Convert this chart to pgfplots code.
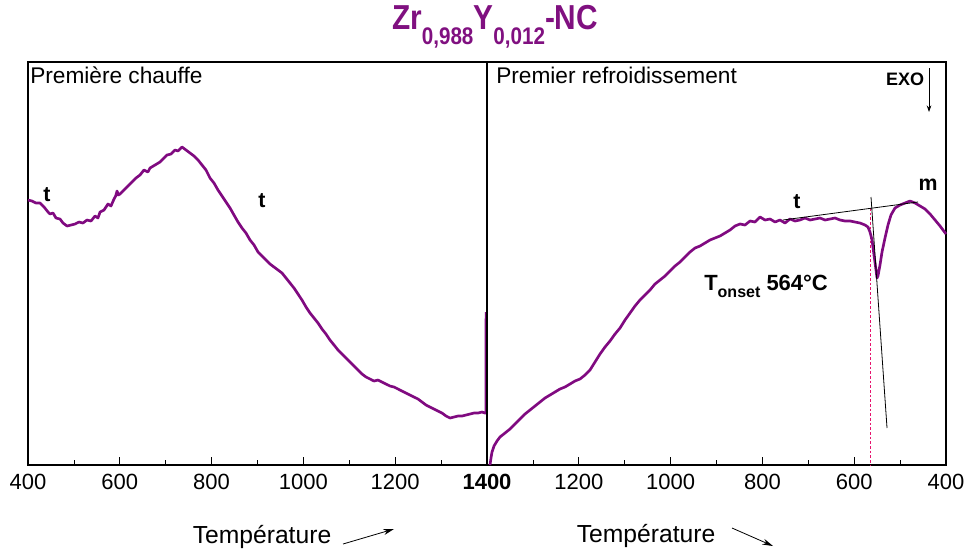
\documentclass[border=0pt]{standalone}
\usepackage{pgfplots}
\pgfplotsset{compat=1.18}
\usepackage{fontspec}
\setmainfont{Liberation Sans}
\usetikzlibrary{arrows.meta}
\definecolor{curve}{RGB}{128,10,128}
\definecolor{ttl}{RGB}{128,16,128}
\definecolor{onset}{RGB}{230,20,110}

\pgfplotstableread{
T y
400 -200
408.7 -201
417.4 -203
426.1 -203
434.9 -207
443.6 -212
447.9 -214
454.5 -213
461.0 -218
469.7 -219
476.3 -223
485.0 -226
493.7 -225
502.4 -224
511.1 -222
519.8 -223
528.5 -220
537.3 -221
546.0 -216
552.5 -218
556.9 -212
565.6 -210
574.3 -204
580.8 -206
587.4 -199
591.0 -196
594.0 -191
597.0 -195
600.4 -194
609.1 -190
617.9 -186
626.6 -182
635.3 -178
644.0 -175
652.7 -170
661.4 -172
665.8 -168
676.7 -165
687.6 -162
696.3 -158
702.8 -155
711.5 -154
720.3 -150
726.8 -151
735.5 -147
744.2 -150
752.9 -153
761.7 -156
770.4 -160
779.1 -165
787.8 -170
796.5 -178
805.2 -183
813.9 -190
822.7 -196
831.4 -202
840.1 -208
848.8 -215
857.5 -222
866.2 -228
874.9 -233
883.7 -240
892.4 -245
901.1 -252
909.8 -256
918.5 -260
927.2 -264
935.9 -267
944.7 -270
953.4 -273
962.1 -278
970.8 -283
979.5 -288
988.2 -294
996.9 -300
1005.7 -307
1014.4 -313
1023.1 -318
1031.8 -323
1040.5 -329
1049.2 -334
1057.9 -340
1066.7 -345
1075.4 -350
1084.1 -354
1092.8 -358
1101.5 -362
1110.2 -366
1118.9 -370
1127.7 -374
1136.4 -377
1145.1 -379
1153.8 -381
1162.5 -380
1171.2 -382
1179.9 -384
1188.7 -386
1197.4 -387
1206.1 -389
1214.8 -391
1223.5 -393
1232.2 -395
1240.9 -397
1249.7 -399
1258.4 -402
1267.1 -405
1275.8 -407
1284.5 -409
1293.2 -411
1301.9 -413
1310.7 -416
1319.4 -418
1328.1 -417
1336.8 -416
1345.5 -416
1354.2 -415
1362.9 -414
1371.7 -413
1380.4 -413
1389.1 -412
1395.6 -413
1397.8 -413
1398.0 -312
}\heating

\pgfplotstableread{
T y
1393.5 -465
1391.3 -458
1389.1 -452
1384.7 -446
1378.2 -441
1371.7 -437
1360.8 -433
1349.9 -429
1339.0 -424
1328.1 -419
1317.2 -414
1306.3 -410
1295.4 -406
1284.5 -402
1273.6 -398
1262.7 -395
1251.9 -392
1241.0 -389
1230.1 -387
1219.2 -384
1208.3 -381
1197.4 -379
1186.5 -375
1175.6 -370
1164.7 -362
1153.8 -354
1142.9 -347
1132.0 -341
1121.1 -334
1110.2 -328
1099.3 -320
1088.4 -313
1077.6 -306
1066.7 -300
1055.8 -295
1044.9 -290
1034.0 -284
1023.1 -280
1012.2 -276
1001.3 -271
990.4 -266
979.5 -262
968.6 -257
957.7 -252
946.8 -248
935.9 -246
925.0 -243
914.2 -240
903.3 -238
892.4 -236
881.5 -233
870.6 -230
859.7 -226
848.8 -224
837.9 -225
827.0 -221
816.1 -222
805.2 -217
794.3 -220
783.4 -219
772.5 -222
761.7 -220
750.8 -223
739.9 -219
729.0 -221
718.1 -220
707.2 -218
696.3 -220
685.4 -219
674.5 -218
663.6 -220
652.7 -219
641.8 -218
630.9 -220
620.0 -221
609.1 -221
598.3 -222
587.4 -223
576.5 -225
570.0 -227
565.6 -232
561.2 -240
556.9 -255
552.5 -270
550.3 -278
548.2 -276
543.8 -265
539.4 -252
532.9 -238
526.4 -225
519.9 -215
511.1 -208
500.2 -205
489.3 -203
478.4 -201
467.5 -203
456.6 -206
445.7 -209
434.8 -214
423.9 -220
413.0 -226
400.0 -234
}\cooling

\pgfplotsset{
  panel/.style={
    scale only axis, width=344.25pt, height=302.25pt,
    xmin=400, xmax=1400, ymin=-465, ymax=-62,
    axis line style={black, line width=0.9pt},
    ytick=\empty, xtick pos=bottom,
    minor xtick={500,700,...,1300},
    major tick length=6pt, minor tick length=4pt,
    tick style={black, line width=0.6pt},
    tick align=inside,
    /pgf/number format/assume math mode=true,
    ticklabel style={font=\fontsize{16.5}{16.5}\selectfont},
    xticklabel style={yshift=-3pt},
    clip=false,
  }
}

\begin{document}
\begin{tikzpicture}
\path[use as bounding box] (0,0) rectangle (724.5pt,-413.25pt);

\begin{axis}[panel, at={(21pt,-348.75pt)}, anchor=south west,
  xtick={400,600,800,1000,1200,1400},
  xticklabels={400,600,800,1000,1200,\textbf{1400}}]
\addplot[curve, line width=2pt, line join=round] table[x=T,y=y] {\heating};
\end{axis}

\begin{axis}[panel, at={(365.25pt,-348.75pt)}, anchor=south west,
  x dir=reverse,
  xtick={400,600,800,1000,1200},
  xticklabels={400,600,800,1000,1200}]
\addplot[onset, line width=1.1pt, dash pattern=on 2pt off 1.5pt] coordinates {(564,-208) (564,-465)};
\addplot[curve, line width=2pt, line join=round] table[x=T,y=y] {\cooling};
\addplot[black, line width=0.6pt] coordinates {(755.1,-220) (461.0,-202)};
\addplot[black, line width=0.6pt] coordinates {(563.4,-197) (528.5,-428)};
\end{axis}

\begin{scope}[x=0.75pt, y=-0.75pt]
\node[ttl, inner sep=0pt] at (495,27) {\scalebox{0.86}[1]{\bfseries\fontsize{26}{26}\selectfont
  Zr\raisebox{-0.42em}{\fontsize{18}{18}\selectfont 0,988}Y\raisebox{-0.42em}{\fontsize{18}{18}\selectfont 0,012}-NC}};
\node[anchor=west, font=\fontsize{17}{17}\selectfont, inner sep=0pt] at (30,75) {Première chauffe};
\node[anchor=west, font=\fontsize{17}{17}\selectfont, inner sep=0pt] at (496,75) {Premier refroidissement};
\node[font=\bfseries\fontsize{13.5}{13.5}\selectfont, inner sep=0pt] at (905,79) {EXO};
\draw[black, line width=0.6pt, -{Stealth[length=5pt,width=3.5pt]}] (929,68) -- (929,112);
\node[font=\bfseries\fontsize{16}{16}\selectfont, inner sep=0pt] at (47,195) {t};
\node[font=\bfseries\fontsize{16}{16}\selectfont, inner sep=0pt] at (262,201) {t};
\node[font=\bfseries\fontsize{16}{16}\selectfont, inner sep=0pt] at (797,202) {t};
\node[font=\bfseries\fontsize{16}{16}\selectfont, inner sep=0pt] at (928,185) {m};
\node[anchor=base west, font=\bfseries\fontsize{16.5}{16.5}\selectfont, inner sep=0pt] at (704,290)
  {T\raisebox{-0.35em}{\fontsize{12}{12}\selectfont onset} 564°C};
\node[font=\fontsize{18.5}{18.5}\selectfont, inner sep=0pt] at (262,537) {Température};
\draw[black, line width=0.6pt, -{Stealth[length=8pt,width=4.5pt]}] (343,544) -- (394,529);
\node[font=\fontsize{18.5}{18.5}\selectfont, inner sep=0pt] at (646,536) {Température};
\draw[black, line width=0.6pt, -{Stealth[length=8pt,width=4.5pt]}] (732,528) -- (773,546);
\end{scope}
\end{tikzpicture}
\end{document}
